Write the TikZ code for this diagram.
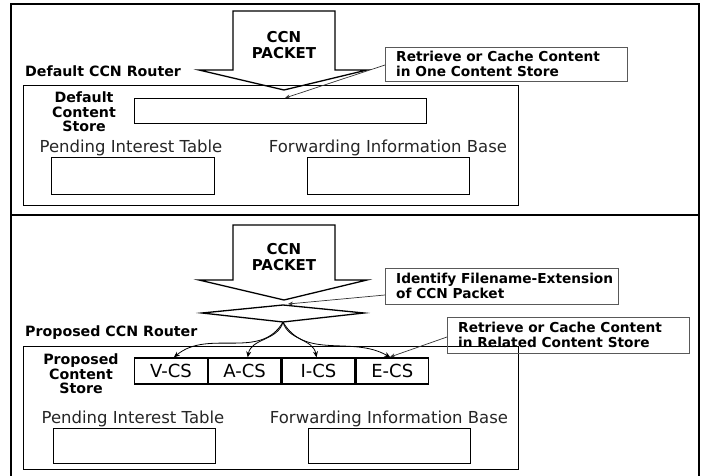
\documentclass[tikz,border=0pt]{standalone}
\usepackage{fontspec}
\setmainfont{DejaVu Sans}
\usetikzlibrary{arrows.meta}
\begin{document}
\begin{tikzpicture}[x=1pt,y=-1pt,
  frame/.style={line width=1.6pt},
  box/.style={draw,line width=1.3pt,inner sep=0pt,anchor=north west},
  csbox/.style={draw,line width=1.3pt,inner sep=0pt,anchor=west,minimum width=72.5pt,minimum height=26pt,font=\fontsize{18}{20}\selectfont},
  blockarrow/.style={draw,line width=1.3pt,fill=white,line join=miter},
  lbl/.style={inner sep=0pt,font=\bfseries\fontsize{14.2}{14.5}\selectfont,align=center},
  clbl/.style={inner sep=0pt,font=\bfseries\fontsize{13.7}{14.5}\selectfont,align=left,anchor=west},
  reg/.style={inner sep=0pt,font=\fontsize{16.5}{18}\selectfont,text=black!85},
  callout/.style={draw=black!65,line width=0.8pt,inner sep=0pt,anchor=north west},
  pointer/.style={draw=black!80,line width=0.7pt,-{Stealth[length=5pt,width=4pt]}},
  fan/.style={draw,line width=0.8pt,-{Stealth[length=6pt,width=5pt]}}]
\useasboundingbox (0,0) rectangle (707,476);
% outer frame
\draw[frame] (11,4) rectangle (699,479);
\draw[frame] (11,215) -- (699,215);

% ===== top panel =====
\draw[blockarrow] (233,11) -- (335,11) -- (335,70) -- (367,70) -- (284,90) -- (199,70) -- (233,70) -- cycle;
\node[lbl,font=\bfseries\fontsize{15}{16}\selectfont] (pkt1) at (284,45) {CCN\\PACKET};
\node[lbl,anchor=west] (rt1) at (25,71) {Default CCN Router};
\node[box,minimum width=495pt,minimum height=120pt] (in1) at (23,85) {};
\node[lbl] (csl1) at (84,112) {Default\\Content\\Store};
\node[box,minimum width=292pt,minimum height=25pt] (cs1) at (134,98) {};
\node[reg] (pitl1) at (131,148) {Pending Interest Table};
\node[reg] (fibl1) at (388,148) {Forwarding Information Base};
\node[box,minimum width=163pt,minimum height=37pt] (pit1) at (51,157) {};
\node[box,minimum width=162pt,minimum height=37pt] (fib1) at (307,157) {};
\node[callout,minimum width=242pt,minimum height=34pt] (co1) at (385,47) {};
\node[clbl] (co1t) at (396,64) {Retrieve or Cache Content\\in One Content Store};
\coordinate (co1a) at (385,65);
\coordinate (cs1t) at (285,98);
\draw[pointer] (co1a) -- (cs1t);

% ===== bottom panel =====
\draw[blockarrow] (233,225) -- (335,225) -- (335,280) -- (367,280) -- (284,300) -- (199,280) -- (233,280) -- cycle;
\node[lbl,font=\bfseries\fontsize{15}{16}\selectfont] (pkt2) at (284,257) {CCN\\PACKET};
\coordinate (dl) at (202,313);
\coordinate (dt) at (283,305);
\coordinate (dr) at (364,313);
\coordinate (db) at (283,322);
\draw[line width=1.3pt] (dl) -- (dt) -- (dr) -- (db) -- cycle;
\node[callout,minimum width=233pt,minimum height=36pt] (co2) at (385,268) {};
\node[clbl] (co2t) at (396,286) {Identify Filename-Extension\\of CCN Packet};
\coordinate (co2a) at (385,295);
\coordinate (dta) at (288,304);
\draw[pointer] (co2a) -- (dta);
\node[lbl,anchor=west] (rt2) at (25,333) {Proposed CCN Router};
\node[box,minimum width=495pt,minimum height=123pt] (in2) at (23,346) {};
\node[lbl] (csl2) at (81,374) {Proposed\\Content\\Store};
\node[csbox] (v) at (134,371) {V-CS};
\node[csbox] (a) at (v.east) {A-CS};
\node[csbox] (i) at (a.east) {I-CS};
\node[csbox] (e) at (i.east) {E-CS};
\node[reg] (pitl2) at (133,419) {Pending Interest Table};
\node[reg] (fibl2) at (389,419) {Forwarding Information Base};
\node[box,minimum width=162pt,minimum height=35pt] (pit2) at (53,428) {};
\node[box,minimum width=162pt,minimum height=35pt] (fib2) at (308,428) {};
\node[callout,minimum width=242pt,minimum height=36pt] (co3) at (447,317) {};
\node[clbl] (co3t) at (458,335) {Retrieve or Cache Content\\in Related Content Store};
\coordinate (co3a) at (447,337);
\coordinate (et) at (390,357);
\draw[pointer] (co3a) -- (et);
% fan-out curves
\draw[fan] (db) to[out=-120,in=40] ([xshift=3pt]v.north);
\draw[fan] (db) to[out=-105,in=80] ([xshift=3pt]a.north);
\draw[fan] (db) to[out=-75,in=100] ([xshift=-2pt]i.north);
\draw[fan] (db) to[out=-60,in=150] ([xshift=-2pt]e.north);
\end{tikzpicture}
\end{document}
